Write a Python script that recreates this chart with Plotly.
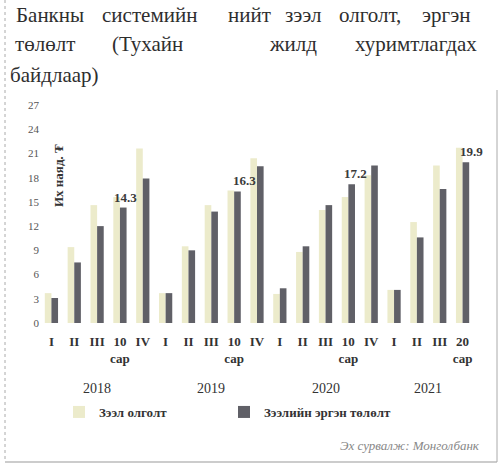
import plotly.graph_objects as go

# ---- data ----
quarters = ["I", "II", "III", "10<br>сар", "IV",
            "I", "II", "III", "10<br>сар", "IV",
            "I", "II", "III", "10<br>сар", "IV",
            "I", "II", "III", "20<br>сар"]
years = ["2018", "2019", "2020", "2021"]
year_sizes = [5, 5, 5, 4]
loans = [3.7, 9.4, 14.6, 15.6, 21.6,
         3.7, 9.5, 14.6, 16.4, 20.4,
         3.6, 8.8, 14.0, 15.6, 18.3,
         4.1, 12.5, 19.5, 21.7]
repay = [3.1, 7.5, 12.0, 14.3, 17.9,
         3.7, 9.0, 13.8, 16.3, 19.4,
         4.3, 9.5, 14.6, 17.2, 19.5,
         4.1, 10.6, 16.6, 19.9]
labelled = [3, 8, 13, 18]
yticks = [0, 3, 6, 9, 12, 15, 18, 21, 24, 27]
series_names = ["Зээл олголт", "Зээлийн эргэн төлөлт"]

SERIF = "Liberation Serif"
CYR = "Liberation Serif"
xs = list(range(len(quarters)))

fig = go.Figure()
fig.add_trace(go.Bar(x=xs, y=loans, name=series_names[0], legend="legend",
                     marker=dict(color="#ecebcb", line=dict(width=0))))
fig.add_trace(go.Bar(x=xs, y=repay, name=series_names[1], legend="legend2",
                     marker=dict(color="#606067", line=dict(width=0))))

W, H = 502, 473
ml, mr, mt, mb = 40, 28, 105, 150
pw, ph = W - ml - mr, H - mt - mb


def px(x, y):
    return (x - ml) / pw, (H - mb - y) / ph


ann = []
# data labels
shifts = [6, 10, 7, 9]
for i, s in zip(labelled, shifts):
    ann.append(dict(x=i, y=repay[i], xref="x", yref="y", text=f"<b>{repay[i]:.1f}</b>",
                    showarrow=False, yanchor="bottom", xshift=s, yshift=1,
                    font=dict(family=SERIF, size=13, color="#3a3a3a")))
# year labels
start = 0
for yr, n in zip(years, year_sizes):
    _, yy = px(0, 388)
    ann.append(dict(x=start + (n - 1) / 2, y=yy, xref="x", yref="paper", text=yr,
                    showarrow=False, yanchor="middle",
                    font=dict(family=SERIF, size=14, color="#333")))
    start += n
# y-axis title inside plot
xx, yy = px(58, 176)
ann.append(dict(x=xx, y=yy, xref="paper", yref="paper", text="<b>Их наяд. ₮</b>",
                textangle=-90, showarrow=False, xanchor="center", yanchor="middle",
                font=dict(family=CYR, size=13, color="#333")))
# title lines (justified text: words placed individually)
tfont = dict(family=CYR, size=21, color="#2e2e2e")
title_words = [("Банкны", 14, 15), ("системийн", 100, 15), ("нийт", 226, 15),
               ("зээл", 283, 15), ("олголт,", 337, 15), ("эргэн", 420, 15),
               ("төлөлт", 13, 44), ("(Тухайн", 110, 44), ("жилд", 267, 44),
               ("хуримтлагдах", 353, 44), ("байдлаар)", 8, 75)]
for w, x0, y0 in title_words:
    xx, yy = px(x0, y0)
    ann.append(dict(x=xx, y=yy, xref="paper", yref="paper", text=w, showarrow=False,
                    xanchor="left", yanchor="middle", font=tfont))
# source
xx, yy = px(482, 445)
ann.append(dict(x=xx, y=yy, xref="paper", yref="paper", text="<i>Эх сурвалж: Монголбанк</i>",
                showarrow=False, xanchor="right", yanchor="middle",
                font=dict(family=CYR, size=13, color="#888")))

lx0, ly0 = px(5, 0)
lx1, ly1 = px(497, 462)
_, ly2 = px(0, 90)
shapes = [
    dict(type="line", xref="paper", yref="paper", x0=lx0, x1=lx0, y0=ly0, y1=ly1,
         line=dict(color="#aaaaaa", width=1, dash="dot")),
    dict(type="line", xref="paper", yref="paper", x0=lx0, x1=lx1, y0=ly1, y1=ly1,
         line=dict(color="#999999", width=1)),
    dict(type="line", xref="paper", yref="paper", x0=lx1, x1=lx1, y0=ly2, y1=ly1,
         line=dict(color="#aaaaaa", width=1)),
]

lg1x, lgy = px(59, 397)
lg2x, _ = px(224, 397)
legfont = dict(family=CYR, size=13, color="#333", weight="bold")
fig.update_layout(
    width=W, height=H,
    margin=dict(l=ml, r=mr, t=mt, b=mb),
    paper_bgcolor="white", plot_bgcolor="white",
    barmode="group", bargap=0.42, bargroupgap=0.0,
    showlegend=True,
    legend=dict(orientation="h", x=lg1x, y=lgy, xanchor="left", yanchor="top",
                font=legfont, itemwidth=30),
    legend2=dict(orientation="h", x=lg2x, y=lgy, xanchor="left", yanchor="top",
                 font=legfont, itemwidth=30),
    xaxis=dict(tickmode="array", tickvals=xs, ticktext=quarters,
               range=[-0.5, len(xs) - 0.5], showgrid=False, zeroline=False,
               showline=False, ticks="", ticklabelstandoff=9,
               tickfont=dict(family=SERIF, size=13, color="#333", weight="bold")),
    yaxis=dict(range=[0, 27], tickvals=yticks, showgrid=False, zeroline=False,
               showline=False, ticks="",
               tickfont=dict(family=SERIF, size=11, color="#555")),
    annotations=ann,
    shapes=shapes,
)

fig.write_html("out.html", config={"displayModeBar": False},
               post_script="document.body.style.margin='0';document.body.style.overflow='hidden';")
